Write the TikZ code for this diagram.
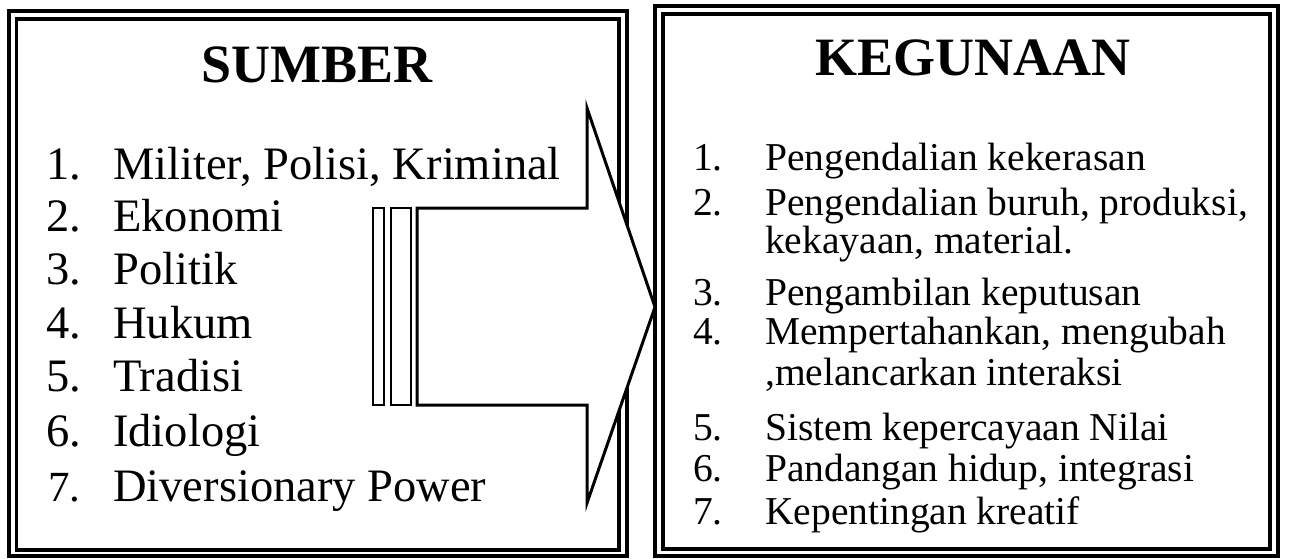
\documentclass[tikz,border=0pt]{standalone}
\usepackage{fontspec}
\setmainfont{Liberation Serif}
\begin{document}
\begin{tikzpicture}[x=1pt,y=-1pt,
  outerline/.style={line width=4pt},
  innerline/.style={line width=3.2pt},
  ttl/.style={anchor=base, inner sep=0pt, font=\fontsize{54}{60}\selectfont\bfseries},
  litem/.style={anchor=base west, inner sep=0pt, font=\fontsize{46.5}{50}\selectfont},
  ritem/.style={anchor=base west, inner sep=0pt, font=\fontsize{39.5}{44}\selectfont},
  arrowbody/.style={line width=3pt, fill=white, line join=miter},
  barbox/.style={line width=2.6pt}]
\useasboundingbox (0,0) rectangle (1290,558);
% left box
\draw[outerline] (8.5,11) rectangle (627,556);
\draw[innerline] (16.5,19) rectangle (619,550);
% right box
\draw[outerline] (655,6) rectangle (1278,556);
\draw[innerline] (663,14) rectangle (1270,549);
% titles
\node[ttl] (t1) at (317,82) {SUMBER};
\node[ttl] (t2) at (973,75) {KEGUNAAN};
% left list
\node[litem] (ln1) at (46,179) {1.};
\node[litem] (lt1) at (113,179) {Militer, Polisi, Kriminal};
\node[litem] (ln2) at (46,231) {2.};
\node[litem] (lt2) at (113,231) {Ekonomi};
\node[litem] (ln3) at (46,284) {3.};
\node[litem] (lt3) at (113,284) {Politik};
\node[litem] (ln4) at (46,338) {4.};
\node[litem] (lt4) at (113,338) {Hukum};
\node[litem] (ln5) at (46,391) {5.};
\node[litem] (lt5) at (113,391) {Tradisi};
\node[litem] (ln6) at (46,446) {6.};
\node[litem] (lt6) at (113,446) {Idiologi};
\node[litem, font=\fontsize{43}{46}\selectfont] (ln7) at (48,501) {7.};
\node[litem] (lt7) at (113,501) {Diversionary Power};
% arrow
\draw[arrowbody] (417,208) -- (587,208) -- (587,108) -- (655,307) -- (587,503) -- (587,405) -- (417,405) -- cycle;
\draw[barbox] (373,208) rectangle (384,405);
\draw[barbox] (391,208) rectangle (411,405);
% right list
\node[ritem] (rn1) at (693,170) {1.};
\node[ritem] (rt1) at (765,170) {Pengendalian kekerasan};
\node[ritem] (rn2) at (693,215) {2.};
\node[ritem] (rt2) at (765,215) {Pengendalian buruh, produksi,};
\node[ritem] (rt2b) at (765,253) {kekayaan, material.};
\node[ritem] (rn3) at (693,305) {3.};
\node[ritem] (rt3) at (765,305) {Pengambilan keputusan};
\node[ritem] (rn4) at (693,344) {4.};
\node[ritem] (rt4) at (765,344) {Mempertahankan, mengubah};
\node[ritem] (rt4b) at (765,385) {,melancarkan interaksi};
\node[ritem] (rn5) at (693,440) {5.};
\node[ritem] (rt5) at (765,440) {Sistem kepercayaan Nilai};
\node[ritem] (rn6) at (693,481) {6.};
\node[ritem] (rt6) at (765,481) {Pandangan hidup, integrasi};
\node[ritem] (rn7) at (693,524) {7.};
\node[ritem] (rt7) at (765,524) {Kepentingan kreatif};
\end{tikzpicture}
\end{document}
